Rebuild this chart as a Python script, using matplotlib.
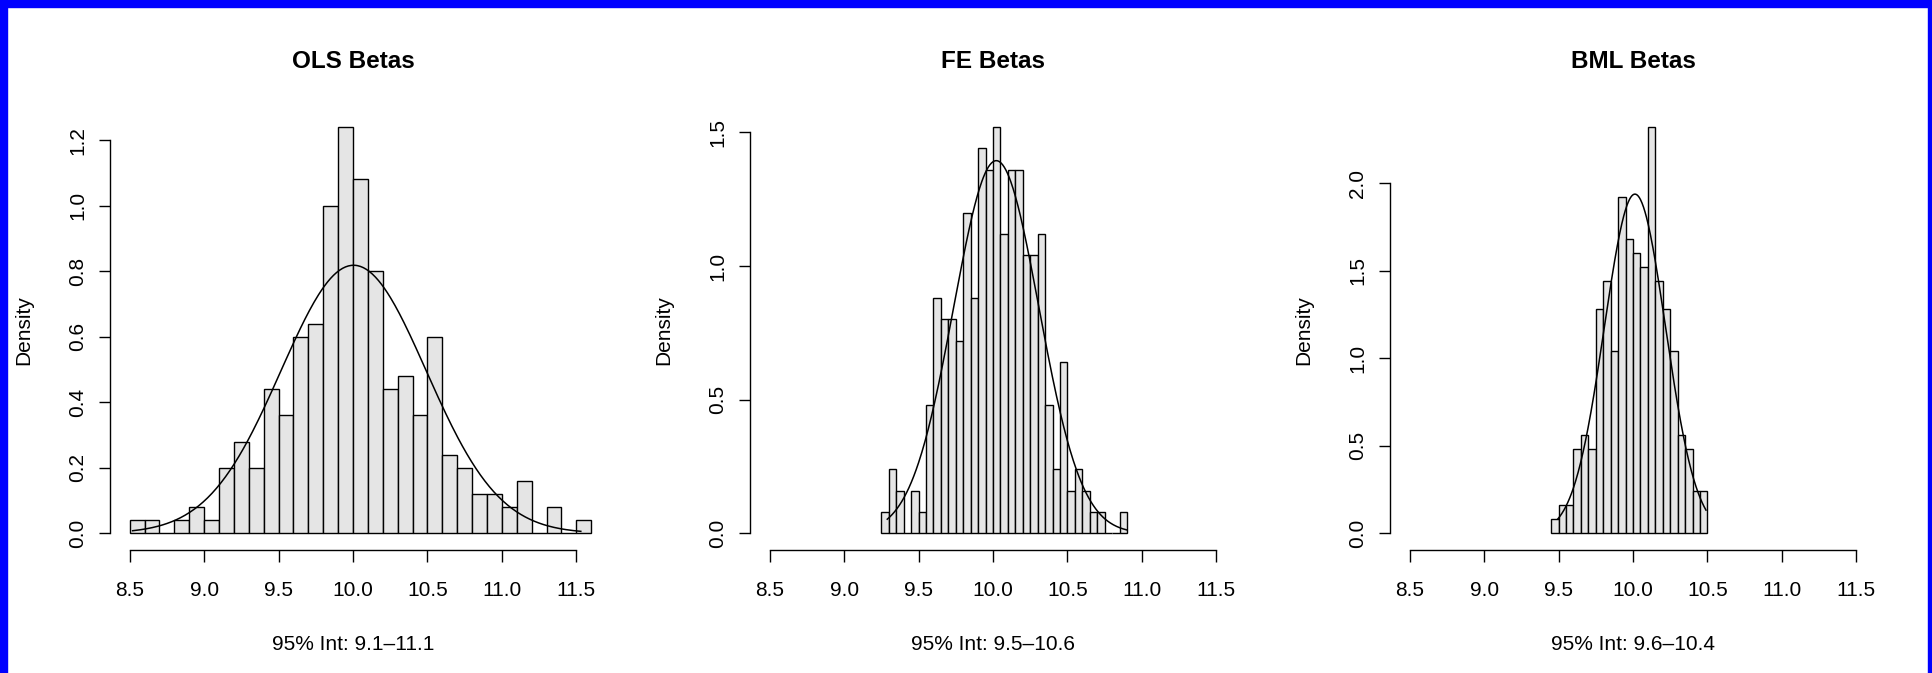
import numpy as np
import matplotlib as mpl

mpl.use('Agg')
import matplotlib.pyplot as plt
from matplotlib.patches import Rectangle

plt.rcParams['font.family'] = ['Liberation Sans', 'DejaVu Sans']

# panel titles and x labels
titles = ["OLS Betas", "FE Betas", "BML Betas"]
int_labels = ["95% Int: 9.1\u201311.1", "95% Int: 9.5\u201310.6", "95% Int: 9.6\u201310.4"]

n_draws = 250

# histogram counts per bin
ols_start, ols_width = 8.5, 0.1
ols_counts = [1, 1, 0, 1, 2, 1, 5, 7, 5, 11, 9, 15, 16, 25, 31, 27, 20, 11, 12, 9,
              15, 6, 5, 3, 3, 2, 4, 0, 2, 0, 1]

fe_start, fe_width = 9.25, 0.05
fe_counts = [1, 3, 2, 0, 2, 1, 6, 11, 10, 10, 9, 15, 11, 18, 17, 19, 14, 17, 17, 13,
             13, 14, 6, 3, 8, 2, 3, 2, 1, 1, 0, 0, 1]

bml_start, bml_width = 9.45, 0.05
bml_counts = [1, 2, 2, 6, 7, 6, 16, 18, 13, 24, 21, 20, 19, 29, 18, 16, 13, 7, 6, 3, 3]

# fitted normal curves: mean, sd, drawn range
ols_norm = (10.004, 0.4877, 8.52, 11.53)
fe_norm = (10.022, 0.2862, 9.29, 10.90)
bml_norm = (10.013, 0.2060, 9.495, 10.49)

x_ticks = [8.5, 9.0, 9.5, 10.0, 10.5, 11.0, 11.5]
y_ticks = [[0.0, 0.2, 0.4, 0.6, 0.8, 1.0, 1.2],
           [0.0, 0.5, 1.0, 1.5],
           [0.0, 0.5, 1.0, 1.5, 2.0]]

panels = [(ols_start, ols_width, ols_counts, ols_norm),
          (fe_start, fe_width, fe_counts, fe_norm),
          (bml_start, bml_width, bml_counts, bml_norm)]

W, H = 1933, 673
fig = plt.figure(figsize=(W / 100, H / 100), dpi=100)

px_per_unit = 148.9
ax_w, ax_h = 486, 438.9
ax_bottom = 549.6

for i, (start, width, counts, norm) in enumerate(panels):
    left = 110 + 640 * i
    ax = fig.add_axes([left / W, (H - ax_bottom) / H, ax_w / W, ax_h / H])

    counts = np.array(counts)
    dens = counts / (n_draws * width)
    edges = start + width * np.arange(len(counts))
    ax.bar(edges, dens, width=width, align='edge', color='#e5e5e5',
           edgecolor='black', linewidth=1.0)

    mu, sd, lo, hi = norm
    xs = np.linspace(lo, hi, 300)
    ax.plot(xs, np.exp(-0.5 * ((xs - mu) / sd) ** 2) / (sd * np.sqrt(2 * np.pi)),
            color='black', linewidth=1.1)

    half = ax_w / 2 / px_per_unit
    ax.set_xlim(10 - half, 10 + half)
    ymax = dens.max()
    ax.set_ylim(-0.04 * ymax, 1.04 * ymax)

    for s in ['top', 'right']:
        ax.spines[s].set_visible(False)
    ax.spines['bottom'].set_bounds(x_ticks[0], x_ticks[-1])
    ax.spines['left'].set_bounds(y_ticks[i][0], y_ticks[i][-1])
    for s in ['bottom', 'left']:
        ax.spines[s].set_linewidth(1.0)

    ax.set_xticks(x_ticks)
    ax.set_xticklabels(["%.1f" % v for v in x_ticks])
    ax.set_yticks(y_ticks[i])
    ax.set_yticklabels(["%.1f" % v for v in y_ticks[i]], rotation=90, va='center')
    ax.tick_params(axis='x', length=8.6, width=1.0, labelsize=15, pad=14)
    ax.tick_params(axis='y', length=8.2, width=1.0, labelsize=15, pad=8)

    ax.text(0.5, 1 + 42.4 / ax_h, titles[i], transform=ax.transAxes, ha='center',
            va='baseline', fontsize=17.5, fontweight='bold')
    ax.text(0.5, -(650.5 - ax_bottom) / ax_h, int_labels[i], transform=ax.transAxes,
            ha='center', va='baseline', fontsize=15)
    ax.text(-86 / ax_w, 0.5, "Density", transform=ax.transAxes, ha='center',
            va='center', rotation=90, fontsize=15)

# blue frame around the picture
blue = '#0000ff'
fig.add_artist(Rectangle((0, 0), 7 / W, 1, transform=fig.transFigure, color=blue))
fig.add_artist(Rectangle((0, 1 - 7 / H), 1, 7 / H, transform=fig.transFigure, color=blue))
fig.add_artist(Rectangle((1 - 5 / W, 0), 5 / W, 1, transform=fig.transFigure, color=blue))

fig.savefig("out.png", dpi=100)
